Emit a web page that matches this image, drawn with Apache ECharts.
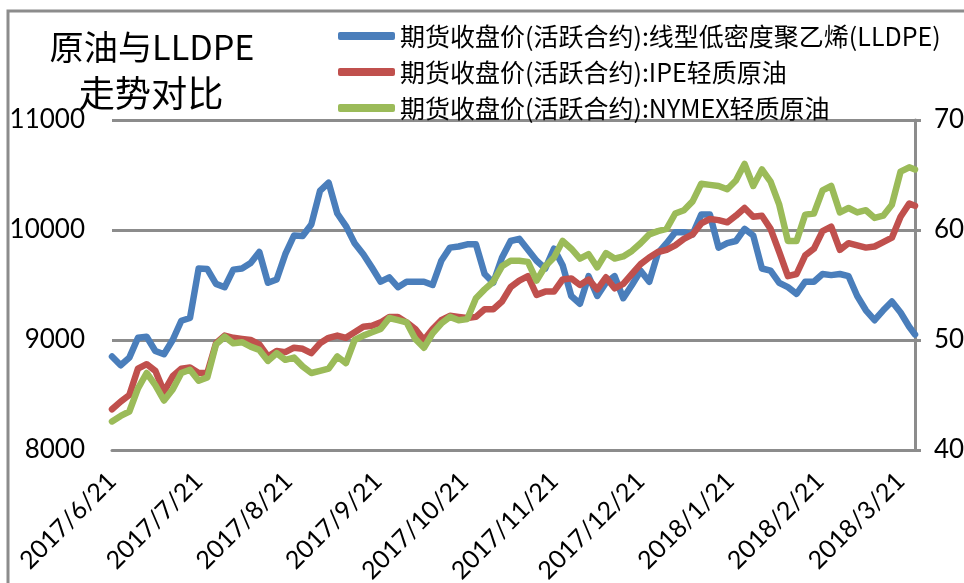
<!DOCTYPE html>
<html>
<head>
<meta charset="utf-8">
<script src="https://cdn.jsdelivr.net/npm/echarts@6/dist/echarts.min.js"></script>
<style>
html,body{margin:0;padding:0;background:#fff;}
#chart{width:964px;height:583px;}
</style>
</head>
<body>
<div id="chart"></div>
<script>
// ---- data ----
const seriesNames = [
  '期货收盘价(活跃合约):线型低密度聚乙烯(LLDPE)',
  '期货收盘价(活跃合约):IPE轻质原油',
  '期货收盘价(活跃合约):NYMEX轻质原油'
];
const titleLines = ['原油与LLDPE', '走势对比'];
const tickLabels = ['2017/6/21','2017/7/21','2017/8/21','2017/9/21','2017/10/21','2017/11/21','2017/12/21','2018/1/21','2018/2/21','2018/3/21'];
const dateRange = ['2017/6/21', '2018/3/26'];
const dates = [
  '2017/6/21','2017/6/24','2017/6/27','2017/6/30',
  '2017/7/3','2017/7/6','2017/7/9','2017/7/12','2017/7/15','2017/7/18','2017/7/21','2017/7/24','2017/7/27','2017/7/30',
  '2017/8/2','2017/8/5','2017/8/8','2017/8/11','2017/8/14','2017/8/17','2017/8/20','2017/8/23','2017/8/26','2017/8/29',
  '2017/9/1','2017/9/4','2017/9/7','2017/9/10','2017/9/13','2017/9/16','2017/9/19','2017/9/22','2017/9/25','2017/9/28',
  '2017/10/1','2017/10/4','2017/10/7','2017/10/10','2017/10/13','2017/10/16','2017/10/19','2017/10/22','2017/10/25','2017/10/28','2017/10/31',
  '2017/11/3','2017/11/6','2017/11/9','2017/11/12','2017/11/15','2017/11/18','2017/11/21','2017/11/24','2017/11/27','2017/11/30',
  '2017/12/3','2017/12/6','2017/12/9','2017/12/12','2017/12/15','2017/12/18','2017/12/21','2017/12/24','2017/12/27','2017/12/30',
  '2018/1/2','2018/1/5','2018/1/8','2018/1/11','2018/1/14','2018/1/17','2018/1/20','2018/1/23','2018/1/26','2018/1/29',
  '2018/2/1','2018/2/4','2018/2/7','2018/2/10','2018/2/13','2018/2/16','2018/2/19','2018/2/22','2018/2/25','2018/2/28',
  '2018/3/3','2018/3/6','2018/3/9','2018/3/12','2018/3/15','2018/3/18','2018/3/21','2018/3/24','2018/3/26'
];
const lldpe = [
  8850,8770,8840,9020,
  9030,8900,8870,9000,9175,9200,9650,9645,9510,9480,
  9640,9650,9700,9800,9520,9550,9780,9950,9945,10050,
  10355,10430,10150,10036,9880,9780,9658,9530,9570,9480,
  9530,9530,9530,9500,9720,9840,9850,9870,9870,9600,9520,
  9748,9900,9920,9820,9720,9650,9830,9680,9400,9330,
  9580,9400,9520,9580,9380,9500,9630,9530,9790,9880,
  9980,9980,9960,10140,10140,9840,9880,9900,10010,9950,
  9650,9630,9520,9480,9420,9530,9530,9600,9590,9600,
  9580,9400,9270,9180,9270,9350,9250,9120,9050
];
const ipe = [
  43.7,44.4,45.0,47.4,
  47.8,47.2,45.3,46.7,47.4,47.5,47.0,47.0,49.7,50.4,
  50.2,50.1,50.0,49.6,48.5,49.0,48.9,49.3,49.2,48.8,
  49.7,50.2,50.4,50.2,50.7,51.2,51.3,51.6,52.1,52.1,
  51.6,51.0,50.0,51.0,51.8,52.2,52.1,52.0,52.1,52.8,52.8,
  53.5,54.8,55.4,55.8,54.1,54.4,54.4,55.5,55.6,55.0,
  55.5,54.6,55.7,54.7,55.1,56.0,56.9,57.5,58.0,58.2,
  58.6,59.2,59.6,60.6,61.0,60.9,60.7,61.3,62.0,61.2,
  61.3,60.1,58.0,55.8,56.0,57.7,58.3,59.9,60.3,58.2,
  58.8,58.6,58.4,58.5,58.9,59.3,61.2,62.4,62.2
];
const nymex = [
  42.6,43.1,43.5,45.6,
  47.0,45.9,44.5,45.5,47.0,47.3,46.3,46.6,49.6,50.3,
  49.7,49.8,49.4,49.1,48.1,48.8,48.2,48.4,47.6,47.0,
  47.2,47.4,48.5,47.9,50.0,50.4,50.7,51.0,52.0,51.8,
  51.6,50.1,49.3,50.6,51.5,52.1,51.8,51.9,53.8,54.6,55.3,
  56.7,57.2,57.2,57.1,55.4,56.7,57.5,59.0,58.3,57.4,
  57.8,56.6,57.9,57.4,57.6,58.1,58.8,59.6,59.9,60.1,
  61.5,61.8,62.6,64.2,64.1,64.0,63.7,64.5,66.0,64.0,
  65.5,64.4,62.3,59.0,59.0,61.4,61.5,63.6,64.0,61.6,
  62.0,61.6,61.8,61.1,61.3,62.3,65.3,65.7,65.5
];

// ---- helpers ----
function ts(s) { const p = s.split('/').map(Number); return new Date(p[0], p[1] - 1, p[2]).getTime(); }
function pairs(vals) { return dates.map((d, i) => [ts(d), vals[i]]); }

const colors = ['#4A7EBB', '#C0504D', '#9BBB59'];
const gridGray = '#8c8c8c';
const latin = 'Lato, "Noto Sans CJK SC", sans-serif';
const cjk = '"Noto Sans CJK SC", sans-serif';

// fit a title line's font size to a target pixel width (layout only)
const mctx = document.createElement('canvas').getContext('2d');
function fitSize(text, family, target, base) {
  mctx.font = base + 'px ' + family;
  const w = mctx.measureText(text).width;
  return Math.max(20, Math.min(40, base * target / w));
}
const t1Size = fitSize(titleLines[0], cjk, 205, 35);
const t2Size = fitSize(titleLines[1], cjk, 145, 36);

const chart = echarts.init(document.getElementById('chart'), null, {renderer: 'canvas'});
chart.setOption({
  animation: false,
  backgroundColor: '#fff',
  color: colors,
  graphic: [
    {type: 'rect', z: -10, shape: {x: 8, y: 11, width: 1000, height: 1000},
     style: {fill: 'none', stroke: gridGray, lineWidth: 3}},
    {type: 'text', x: 152, y: 47, z: 10,
     style: {text: titleLines[0], font: t1Size.toFixed(1) + 'px ' + cjk, fill: '#000', align: 'center', verticalAlign: 'middle'}},
    {type: 'text', x: 151, y: 93, z: 10,
     style: {text: titleLines[1], font: t2Size.toFixed(1) + 'px ' + cjk, fill: '#000', align: 'center', verticalAlign: 'middle'}}
  ],
  legend: {
    orient: 'vertical', left: 333, top: 17,
    itemWidth: 57, itemHeight: 8, itemGap: 8, icon: 'roundRect',
    textStyle: {fontSize: 25, fontFamily: cjk, color: '#000', lineHeight: 28},
    data: seriesNames
  },
  grid: {left: 112, right: 49, top: 120, bottom: 133, containLabel: false, outerBoundsMode: 'none'},
  xAxis: {
    type: 'value', min: ts(dateRange[0]), max: ts(dateRange[1]),
    axisLine: {show: true, lineStyle: {color: gridGray, width: 3}},
    axisTick: {show: false},
    splitLine: {show: false},
    axisLabel: {
      customValues: tickLabels.map(ts),
      rotate: 45, margin: 27, fontSize: 25, fontFamily: latin, color: '#000',
      hideOverlap: false,
      formatter: function (v) { const d = new Date(v); return d.getFullYear() + '/' + (d.getMonth() + 1) + '/' + d.getDate(); }
    }
  },
  yAxis: [
    {type: 'value', min: 8000, max: 11000, interval: 1000, position: 'left',
     axisLine: {show: false}, axisTick: {show: false},
     axisLabel: {fontSize: 26, fontFamily: latin, color: '#000', margin: 27,
                 formatter: function (v) { return String(v); }},
     splitLine: {show: true, lineStyle: {color: gridGray, width: 3}}},
    {type: 'value', min: 40, max: 70, interval: 10, position: 'right',
     axisLine: {show: true, lineStyle: {color: gridGray, width: 3}},
     axisTick: {show: true, inside: false, length: 6, lineStyle: {color: gridGray, width: 3}},
     axisLabel: {fontSize: 26, fontFamily: latin, color: '#000', margin: 19},
     splitLine: {show: false}}
  ],
  series: [
    {name: seriesNames[0], type: 'line', yAxisIndex: 0, data: pairs(lldpe), showSymbol: false,
     lineStyle: {width: 6.5, color: colors[0], join: 'round', cap: 'round'}},
    {name: seriesNames[1], type: 'line', yAxisIndex: 1, data: pairs(ipe), showSymbol: false,
     lineStyle: {width: 6.5, color: colors[1], join: 'round', cap: 'round'}},
    {name: seriesNames[2], type: 'line', yAxisIndex: 1, data: pairs(nymex), showSymbol: false,
     lineStyle: {width: 6.5, color: colors[2], join: 'round', cap: 'round'}}
  ]
});
</script>
</body>
</html>
